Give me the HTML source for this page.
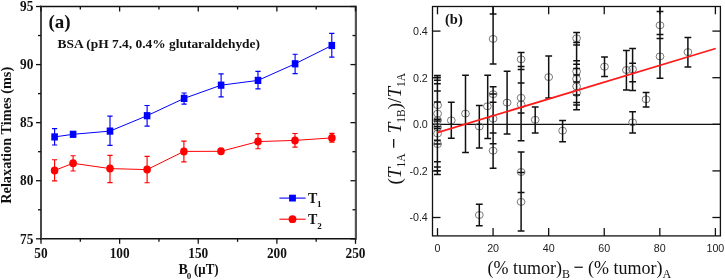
<!DOCTYPE html>
<html><head><meta charset="utf-8"><style>
html,body{margin:0;padding:0;background:#fff;width:725px;height:280px;overflow:hidden}
svg{display:block;will-change:transform}
text{font-family:"Liberation Serif",serif;fill:#111}
.lb{font-weight:bold;font-size:15.5px}
.lg{font-weight:bold;font-size:14px}
.sub{font-size:9px}
.sub2{font-size:9px}
.pa{font-weight:bold;font-size:19px}
.pb{font-weight:bold;font-size:14.5px}
.bsa{font-weight:bold;font-size:12.5px}
.ax{font-weight:bold;font-size:14px}
.rl{font-family:"Liberation Sans",sans-serif;font-size:10.7px;fill:#222}
.xl{font-size:18px}
.xs{font-size:12px}
.yl{font-size:19px}
.ys{font-size:11.5px}
</style></head><body>
<svg width="725" height="280" viewBox="0 0 725 280">
<line x1="40" y1="6.5" x2="356.5" y2="6.5" stroke="#111" stroke-width="1.5"/>
<line x1="40" y1="238.8" x2="356.5" y2="238.8" stroke="#111" stroke-width="1.5"/>
<line x1="41" y1="5.8" x2="41" y2="239.5" stroke="#484848" stroke-width="2"/>
<line x1="355.9" y1="5.8" x2="355.9" y2="239.5" stroke="#555" stroke-width="2.2"/>
<line x1="41.00" y1="238.8" x2="41.00" y2="243.8" stroke="#111" stroke-width="1.3"/>
<line x1="41.00" y1="6.5" x2="41.00" y2="11.5" stroke="#111" stroke-width="1.3"/>
<line x1="80.31" y1="238.8" x2="80.31" y2="241.8" stroke="#111" stroke-width="1.3"/>
<line x1="80.31" y1="6.5" x2="80.31" y2="9.5" stroke="#111" stroke-width="1.3"/>
<line x1="119.62" y1="238.8" x2="119.62" y2="243.8" stroke="#111" stroke-width="1.3"/>
<line x1="119.62" y1="6.5" x2="119.62" y2="11.5" stroke="#111" stroke-width="1.3"/>
<line x1="158.94" y1="238.8" x2="158.94" y2="241.8" stroke="#111" stroke-width="1.3"/>
<line x1="158.94" y1="6.5" x2="158.94" y2="9.5" stroke="#111" stroke-width="1.3"/>
<line x1="198.25" y1="238.8" x2="198.25" y2="243.8" stroke="#111" stroke-width="1.3"/>
<line x1="198.25" y1="6.5" x2="198.25" y2="11.5" stroke="#111" stroke-width="1.3"/>
<line x1="237.56" y1="238.8" x2="237.56" y2="241.8" stroke="#111" stroke-width="1.3"/>
<line x1="237.56" y1="6.5" x2="237.56" y2="9.5" stroke="#111" stroke-width="1.3"/>
<line x1="276.88" y1="238.8" x2="276.88" y2="243.8" stroke="#111" stroke-width="1.3"/>
<line x1="276.88" y1="6.5" x2="276.88" y2="11.5" stroke="#111" stroke-width="1.3"/>
<line x1="316.19" y1="238.8" x2="316.19" y2="241.8" stroke="#111" stroke-width="1.3"/>
<line x1="316.19" y1="6.5" x2="316.19" y2="9.5" stroke="#111" stroke-width="1.3"/>
<line x1="355.50" y1="238.8" x2="355.50" y2="243.8" stroke="#111" stroke-width="1.3"/>
<line x1="355.50" y1="6.5" x2="355.50" y2="11.5" stroke="#111" stroke-width="1.3"/>
<line x1="41" y1="238.80" x2="36" y2="238.80" stroke="#111" stroke-width="1.3"/>
<line x1="355.5" y1="238.80" x2="350.5" y2="238.80" stroke="#111" stroke-width="1.3"/>
<line x1="41" y1="209.76" x2="38" y2="209.76" stroke="#111" stroke-width="1.3"/>
<line x1="355.5" y1="209.76" x2="352.5" y2="209.76" stroke="#111" stroke-width="1.3"/>
<line x1="41" y1="180.73" x2="36" y2="180.73" stroke="#111" stroke-width="1.3"/>
<line x1="355.5" y1="180.73" x2="350.5" y2="180.73" stroke="#111" stroke-width="1.3"/>
<line x1="41" y1="151.69" x2="38" y2="151.69" stroke="#111" stroke-width="1.3"/>
<line x1="355.5" y1="151.69" x2="352.5" y2="151.69" stroke="#111" stroke-width="1.3"/>
<line x1="41" y1="122.65" x2="36" y2="122.65" stroke="#111" stroke-width="1.3"/>
<line x1="355.5" y1="122.65" x2="350.5" y2="122.65" stroke="#111" stroke-width="1.3"/>
<line x1="41" y1="93.61" x2="38" y2="93.61" stroke="#111" stroke-width="1.3"/>
<line x1="355.5" y1="93.61" x2="352.5" y2="93.61" stroke="#111" stroke-width="1.3"/>
<line x1="41" y1="64.58" x2="36" y2="64.58" stroke="#111" stroke-width="1.3"/>
<line x1="355.5" y1="64.58" x2="350.5" y2="64.58" stroke="#111" stroke-width="1.3"/>
<line x1="41" y1="35.54" x2="38" y2="35.54" stroke="#111" stroke-width="1.3"/>
<line x1="355.5" y1="35.54" x2="352.5" y2="35.54" stroke="#111" stroke-width="1.3"/>
<line x1="41" y1="6.50" x2="36" y2="6.50" stroke="#111" stroke-width="1.3"/>
<line x1="355.5" y1="6.50" x2="350.5" y2="6.50" stroke="#111" stroke-width="1.3"/>
<text transform="translate(33.3,243.50) scale(0.86,1)" text-anchor="end" class="lb">75</text>
<text transform="translate(33.3,185.43) scale(0.86,1)" text-anchor="end" class="lb">80</text>
<text transform="translate(33.3,127.35) scale(0.86,1)" text-anchor="end" class="lb">85</text>
<text transform="translate(33.3,69.28) scale(0.86,1)" text-anchor="end" class="lb">90</text>
<text transform="translate(33.3,11.20) scale(0.86,1)" text-anchor="end" class="lb">95</text>
<text transform="translate(41.00,257.6) scale(0.86,1)" text-anchor="middle" class="lb">50</text>
<text transform="translate(119.62,257.6) scale(0.86,1)" text-anchor="middle" class="lb">100</text>
<text transform="translate(198.25,257.6) scale(0.86,1)" text-anchor="middle" class="lb">150</text>
<text transform="translate(276.88,257.6) scale(0.86,1)" text-anchor="middle" class="lb">200</text>
<text transform="translate(355.50,257.6) scale(0.86,1)" text-anchor="middle" class="lb">250</text>
<polyline points="54.6,136.9 73.1,134.3 110,131.1 147.1,115.7 184.1,98.4 221.1,85.2 258,80.4 295.1,63.8 331.8,45.5" fill="none" stroke="#0000ff" stroke-width="1.0"/>
<path d="M54.6 128.6V145M52.0 128.6H57.2M52.0 145H57.2" stroke="#0000ff" stroke-width="1.15" fill="none"/>
<path d="M110 116.1V145.4M107.4 116.1H112.6M107.4 145.4H112.6" stroke="#0000ff" stroke-width="1.15" fill="none"/>
<path d="M147.1 105.5V126.1M144.5 105.5H149.7M144.5 126.1H149.7" stroke="#0000ff" stroke-width="1.15" fill="none"/>
<path d="M184.1 93V104.1M181.5 93H186.7M181.5 104.1H186.7" stroke="#0000ff" stroke-width="1.15" fill="none"/>
<path d="M221.1 73.8V96.8M218.5 73.8H223.7M218.5 96.8H223.7" stroke="#0000ff" stroke-width="1.15" fill="none"/>
<path d="M258 71.4V88.8M255.4 71.4H260.6M255.4 88.8H260.6" stroke="#0000ff" stroke-width="1.15" fill="none"/>
<path d="M295.1 54.2V73.6M292.5 54.2H297.70000000000005M292.5 73.6H297.70000000000005" stroke="#0000ff" stroke-width="1.15" fill="none"/>
<path d="M331.8 33.4V57.1M329.2 33.4H334.40000000000003M329.2 57.1H334.40000000000003" stroke="#0000ff" stroke-width="1.15" fill="none"/>
<rect x="51.300000000000004" y="133.3" width="6.6" height="7.2" fill="#0000ff"/>
<rect x="69.8" y="130.70000000000002" width="6.6" height="7.2" fill="#0000ff"/>
<rect x="106.7" y="127.5" width="6.6" height="7.2" fill="#0000ff"/>
<rect x="143.79999999999998" y="112.10000000000001" width="6.6" height="7.2" fill="#0000ff"/>
<rect x="180.79999999999998" y="94.80000000000001" width="6.6" height="7.2" fill="#0000ff"/>
<rect x="217.79999999999998" y="81.60000000000001" width="6.6" height="7.2" fill="#0000ff"/>
<rect x="254.7" y="76.80000000000001" width="6.6" height="7.2" fill="#0000ff"/>
<rect x="291.8" y="60.199999999999996" width="6.6" height="7.2" fill="#0000ff"/>
<rect x="328.5" y="41.9" width="6.6" height="7.2" fill="#0000ff"/>
<polyline points="54.6,170.4 73.1,163.3 110,168.6 147.1,169.6 183.9,151.4 221,151.3 258,141.6 295,140.4 331.9,137.9" fill="none" stroke="#ff0000" stroke-width="1.0"/>
<path d="M54.6 159.7V180.9M52.0 159.7H57.2M52.0 180.9H57.2" stroke="#ff0000" stroke-width="1.15" fill="none"/>
<path d="M73.1 155.7V171M70.5 155.7H75.69999999999999M70.5 171H75.69999999999999" stroke="#ff0000" stroke-width="1.15" fill="none"/>
<path d="M110 155.4V182.6M107.4 155.4H112.6M107.4 182.6H112.6" stroke="#ff0000" stroke-width="1.15" fill="none"/>
<path d="M147.1 156.4V182.7M144.5 156.4H149.7M144.5 182.7H149.7" stroke="#ff0000" stroke-width="1.15" fill="none"/>
<path d="M183.9 141.1V161.8M181.3 141.1H186.5M181.3 161.8H186.5" stroke="#ff0000" stroke-width="1.15" fill="none"/>
<path d="M258 133.6V148.75M255.4 133.6H260.6M255.4 148.75H260.6" stroke="#ff0000" stroke-width="1.15" fill="none"/>
<path d="M295 133.5V147.1M292.4 133.5H297.6M292.4 147.1H297.6" stroke="#ff0000" stroke-width="1.15" fill="none"/>
<path d="M331.9 133.3V142.1M329.29999999999995 133.3H334.5M329.29999999999995 142.1H334.5" stroke="#ff0000" stroke-width="1.15" fill="none"/>
<ellipse cx="54.6" cy="170.4" rx="3.8" ry="4.0" fill="#ff0000"/>
<ellipse cx="73.1" cy="163.3" rx="3.8" ry="4.0" fill="#ff0000"/>
<ellipse cx="110" cy="168.6" rx="3.8" ry="4.0" fill="#ff0000"/>
<ellipse cx="147.1" cy="169.6" rx="3.8" ry="4.0" fill="#ff0000"/>
<ellipse cx="183.9" cy="151.4" rx="3.8" ry="4.0" fill="#ff0000"/>
<ellipse cx="221" cy="151.3" rx="3.8" ry="4.0" fill="#ff0000"/>
<ellipse cx="258" cy="141.6" rx="3.8" ry="4.0" fill="#ff0000"/>
<ellipse cx="295" cy="140.4" rx="3.8" ry="4.0" fill="#ff0000"/>
<ellipse cx="331.9" cy="137.9" rx="3.8" ry="4.0" fill="#ff0000"/>
<line x1="279.4" y1="198.1" x2="305.6" y2="198.1" stroke="#0000ff" stroke-width="1.1"/>
<rect x="289.1" y="194.7" width="6.8" height="6.8" fill="#0000ff"/>
<line x1="279.4" y1="219.2" x2="305.6" y2="219.2" stroke="#ff0000" stroke-width="1.1"/>
<circle cx="292.5" cy="219.2" r="3.9" fill="#ff0000"/>
<text x="308" y="202.6" class="lg">T<tspan class="sub" dy="4.7" dx="-0.4">1</tspan></text>
<text x="308" y="224" class="lg">T<tspan class="sub" dy="5">2</tspan></text>
<text x="48.5" y="28.3" class="pa">(a)</text>
<text x="57.5" y="48" class="bsa" textLength="202.5" lengthAdjust="spacingAndGlyphs">BSA (pH 7.4, 0.4% glutaraldehyde)</text>
<text x="178.5" y="273.7" class="ax">B</text><text x="186.8" y="278.9" style="font-weight:bold;font-size:9px">0</text><text x="194" y="273.7" class="ax" textLength="24.6" lengthAdjust="spacingAndGlyphs">(μT)</text>
<text transform="translate(11.4,135.3) rotate(-90)" text-anchor="middle" class="ax" textLength="137" lengthAdjust="spacingAndGlyphs">Relaxation Times (ms)</text>
<rect x="432.5" y="6.5" width="287.9" height="229.4" fill="none" stroke="#111" stroke-width="1.3"/>
<line x1="432.5" y1="124.3" x2="720.4" y2="124.3" stroke="#111" stroke-width="1.3"/>
<line x1="437.50" y1="6.5" x2="437.50" y2="14.3" stroke="#111" stroke-width="1.3"/>
<line x1="437.50" y1="235.9" x2="437.50" y2="228.1" stroke="#111" stroke-width="1.3"/>
<text x="437.50" y="251.6" text-anchor="middle" class="rl">0</text>
<line x1="493.08" y1="6.5" x2="493.08" y2="14.3" stroke="#111" stroke-width="1.3"/>
<line x1="493.08" y1="235.9" x2="493.08" y2="228.1" stroke="#111" stroke-width="1.3"/>
<text x="493.08" y="251.6" text-anchor="middle" class="rl">20</text>
<line x1="548.66" y1="6.5" x2="548.66" y2="14.3" stroke="#111" stroke-width="1.3"/>
<line x1="548.66" y1="235.9" x2="548.66" y2="228.1" stroke="#111" stroke-width="1.3"/>
<text x="548.66" y="251.6" text-anchor="middle" class="rl">40</text>
<line x1="604.24" y1="6.5" x2="604.24" y2="14.3" stroke="#111" stroke-width="1.3"/>
<line x1="604.24" y1="235.9" x2="604.24" y2="228.1" stroke="#111" stroke-width="1.3"/>
<text x="604.24" y="251.6" text-anchor="middle" class="rl">60</text>
<line x1="659.82" y1="6.5" x2="659.82" y2="14.3" stroke="#111" stroke-width="1.3"/>
<line x1="659.82" y1="235.9" x2="659.82" y2="228.1" stroke="#111" stroke-width="1.3"/>
<text x="659.82" y="251.6" text-anchor="middle" class="rl">80</text>
<line x1="715.40" y1="6.5" x2="715.40" y2="14.3" stroke="#111" stroke-width="1.3"/>
<line x1="715.40" y1="235.9" x2="715.40" y2="228.1" stroke="#111" stroke-width="1.3"/>
<text x="715.40" y="251.6" text-anchor="middle" class="rl">100</text>
<line x1="432.5" y1="217.50" x2="440.5" y2="217.50" stroke="#111" stroke-width="1.3"/>
<line x1="720.4" y1="217.50" x2="712.4" y2="217.50" stroke="#111" stroke-width="1.3"/>
<text x="427.8" y="221.30" text-anchor="end" class="rl">-0.4</text>
<line x1="432.5" y1="170.90" x2="440.5" y2="170.90" stroke="#111" stroke-width="1.3"/>
<line x1="720.4" y1="170.90" x2="712.4" y2="170.90" stroke="#111" stroke-width="1.3"/>
<text x="427.8" y="174.70" text-anchor="end" class="rl">-0.2</text>
<line x1="432.5" y1="124.30" x2="440.5" y2="124.30" stroke="#111" stroke-width="1.3"/>
<line x1="720.4" y1="124.30" x2="712.4" y2="124.30" stroke="#111" stroke-width="1.3"/>
<text x="427.8" y="128.10" text-anchor="end" class="rl">0.0</text>
<line x1="432.5" y1="77.70" x2="440.5" y2="77.70" stroke="#111" stroke-width="1.3"/>
<line x1="720.4" y1="77.70" x2="712.4" y2="77.70" stroke="#111" stroke-width="1.3"/>
<text x="427.8" y="81.50" text-anchor="end" class="rl">0.2</text>
<line x1="432.5" y1="31.10" x2="440.5" y2="31.10" stroke="#111" stroke-width="1.3"/>
<line x1="720.4" y1="31.10" x2="712.4" y2="31.10" stroke="#111" stroke-width="1.3"/>
<text x="427.8" y="34.90" text-anchor="end" class="rl">0.4</text>
<ellipse cx="437.6" cy="105.2" rx="3.9" ry="3.5" fill="none" stroke="#6a6a6a" stroke-width="0.9"/>
<ellipse cx="437.6" cy="113.7" rx="3.9" ry="3.5" fill="none" stroke="#6a6a6a" stroke-width="0.9"/>
<ellipse cx="437.6" cy="120.2" rx="3.9" ry="3.5" fill="none" stroke="#6a6a6a" stroke-width="0.9"/>
<ellipse cx="437.6" cy="127.4" rx="3.9" ry="3.5" fill="none" stroke="#6a6a6a" stroke-width="0.9"/>
<ellipse cx="437.6" cy="133.5" rx="3.9" ry="3.5" fill="none" stroke="#6a6a6a" stroke-width="0.9"/>
<ellipse cx="437.6" cy="144.1" rx="3.9" ry="3.5" fill="none" stroke="#6a6a6a" stroke-width="0.9"/>
<ellipse cx="451.3" cy="120.4" rx="3.9" ry="3.5" fill="none" stroke="#6a6a6a" stroke-width="0.9"/>
<ellipse cx="465.5" cy="113.6" rx="3.9" ry="3.5" fill="none" stroke="#6a6a6a" stroke-width="0.9"/>
<ellipse cx="479.3" cy="126.5" rx="3.9" ry="3.5" fill="none" stroke="#6a6a6a" stroke-width="0.9"/>
<ellipse cx="479.3" cy="215" rx="3.9" ry="3.5" fill="none" stroke="#6a6a6a" stroke-width="0.9"/>
<ellipse cx="487.4" cy="106.3" rx="3.9" ry="3.5" fill="none" stroke="#6a6a6a" stroke-width="0.9"/>
<ellipse cx="493.1" cy="38.9" rx="3.9" ry="3.5" fill="none" stroke="#6a6a6a" stroke-width="0.9"/>
<ellipse cx="493.1" cy="94.2" rx="3.9" ry="3.5" fill="none" stroke="#6a6a6a" stroke-width="0.9"/>
<ellipse cx="493.1" cy="118.7" rx="3.9" ry="3.5" fill="none" stroke="#6a6a6a" stroke-width="0.9"/>
<ellipse cx="493.1" cy="150.7" rx="3.9" ry="3.5" fill="none" stroke="#6a6a6a" stroke-width="0.9"/>
<ellipse cx="507.1" cy="102.6" rx="3.9" ry="3.5" fill="none" stroke="#6a6a6a" stroke-width="0.9"/>
<ellipse cx="521.1" cy="59.3" rx="3.9" ry="3.5" fill="none" stroke="#6a6a6a" stroke-width="0.9"/>
<ellipse cx="521.1" cy="97.8" rx="3.9" ry="3.5" fill="none" stroke="#6a6a6a" stroke-width="0.9"/>
<ellipse cx="521.1" cy="104.5" rx="3.9" ry="3.5" fill="none" stroke="#6a6a6a" stroke-width="0.9"/>
<ellipse cx="521.1" cy="172" rx="3.9" ry="3.5" fill="none" stroke="#6a6a6a" stroke-width="0.9"/>
<ellipse cx="521.1" cy="201.9" rx="3.9" ry="3.5" fill="none" stroke="#6a6a6a" stroke-width="0.9"/>
<ellipse cx="535.2" cy="119.8" rx="3.9" ry="3.5" fill="none" stroke="#6a6a6a" stroke-width="0.9"/>
<ellipse cx="548.7" cy="77.1" rx="3.9" ry="3.5" fill="none" stroke="#6a6a6a" stroke-width="0.9"/>
<ellipse cx="562.6" cy="130.7" rx="3.9" ry="3.5" fill="none" stroke="#6a6a6a" stroke-width="0.9"/>
<ellipse cx="576.6" cy="38.3" rx="3.9" ry="3.5" fill="none" stroke="#6a6a6a" stroke-width="0.9"/>
<ellipse cx="576.6" cy="71.4" rx="3.9" ry="3.5" fill="none" stroke="#6a6a6a" stroke-width="0.9"/>
<ellipse cx="576.6" cy="78.9" rx="3.9" ry="3.5" fill="none" stroke="#6a6a6a" stroke-width="0.9"/>
<ellipse cx="576.6" cy="86.4" rx="3.9" ry="3.5" fill="none" stroke="#6a6a6a" stroke-width="0.9"/>
<ellipse cx="576.6" cy="92.9" rx="3.9" ry="3.5" fill="none" stroke="#6a6a6a" stroke-width="0.9"/>
<ellipse cx="604.5" cy="66.7" rx="3.9" ry="3.5" fill="none" stroke="#6a6a6a" stroke-width="0.9"/>
<ellipse cx="626.4" cy="70" rx="3.9" ry="3.5" fill="none" stroke="#6a6a6a" stroke-width="0.9"/>
<ellipse cx="632.6" cy="69.3" rx="3.9" ry="3.5" fill="none" stroke="#6a6a6a" stroke-width="0.9"/>
<ellipse cx="632.6" cy="122.4" rx="3.9" ry="3.5" fill="none" stroke="#6a6a6a" stroke-width="0.9"/>
<ellipse cx="646.1" cy="99.3" rx="3.9" ry="3.5" fill="none" stroke="#6a6a6a" stroke-width="0.9"/>
<ellipse cx="660" cy="25.3" rx="3.9" ry="3.5" fill="none" stroke="#6a6a6a" stroke-width="0.9"/>
<ellipse cx="660" cy="56.4" rx="3.9" ry="3.5" fill="none" stroke="#6a6a6a" stroke-width="0.9"/>
<ellipse cx="687.9" cy="52.1" rx="3.9" ry="3.5" fill="none" stroke="#6a6a6a" stroke-width="0.9"/>
<path d="M437.4 75.4V174.6M434.0 75.4H440.79999999999995M434.0 77.5H440.79999999999995M434.0 80.2H440.79999999999995M434.0 83.75H440.79999999999995M434.0 90.9H440.79999999999995M434.0 101.9H440.79999999999995M434.0 119.2H440.79999999999995M434.0 121.1H440.79999999999995M434.0 126.5H440.79999999999995M434.0 128.4H440.79999999999995M434.0 140.2H440.79999999999995M434.0 144.1H440.79999999999995M434.0 161.8H440.79999999999995M434.0 167.1H440.79999999999995M434.0 170.7H440.79999999999995M434.0 174.6H440.79999999999995" stroke="#111" stroke-width="1.5" fill="none"/>
<path d="M451.3 102.3V138.2M447.90000000000003 102.3H454.7M447.90000000000003 138.2H454.7" stroke="#111" stroke-width="1.5" fill="none"/>
<path d="M465.5 75.2V152.4M462.1 75.2H468.9M462.1 152.4H468.9" stroke="#111" stroke-width="1.5" fill="none"/>
<path d="M479.3 105.4V148M475.90000000000003 105.4H482.7M475.90000000000003 148H482.7" stroke="#111" stroke-width="1.5" fill="none"/>
<path d="M479.3 204.3V225.7M475.90000000000003 204.3H482.7M475.90000000000003 225.7H482.7" stroke="#111" stroke-width="1.5" fill="none"/>
<path d="M487.7 75.2V138.6M484.3 75.2H491.09999999999997M484.3 138.6H491.09999999999997" stroke="#111" stroke-width="1.5" fill="none"/>
<path d="M493.1 6.5V63.9M489.70000000000005 13.9H496.5M489.70000000000005 63.9H496.5" stroke="#111" stroke-width="1.5" fill="none"/>
<path d="M493.1 86.7V168.3M489.70000000000005 86.7H496.5M489.70000000000005 93.9H496.5M489.70000000000005 102.2H496.5M489.70000000000005 133.1H496.5M489.70000000000005 143.7H496.5M489.70000000000005 168.3H496.5" stroke="#111" stroke-width="1.5" fill="none"/>
<path d="M507.1 71.3V133.9M503.70000000000005 71.3H510.5M503.70000000000005 133.9H510.5" stroke="#111" stroke-width="1.5" fill="none"/>
<path d="M521.1 52.4V140.8M517.7 52.4H524.5M517.7 66.6H524.5M517.7 69.5H524.5M517.7 83H524.5M517.7 113H524.5M517.7 140.8H524.5" stroke="#111" stroke-width="1.5" fill="none"/>
<path d="M521.1 152V231.1M517.7 152H524.5M517.7 172.4H524.5M517.7 192.4H524.5M517.7 231.1H524.5" stroke="#111" stroke-width="1.5" fill="none"/>
<path d="M535.2 106.9V132.9M531.8000000000001 106.9H538.6M531.8000000000001 132.9H538.6" stroke="#111" stroke-width="1.5" fill="none"/>
<path d="M548.7 56.1V98.1M545.3000000000001 56.1H552.1M545.3000000000001 98.1H552.1" stroke="#111" stroke-width="1.5" fill="none"/>
<path d="M562.6 120.4V141.7M559.2 120.4H566.0M559.2 141.7H566.0" stroke="#111" stroke-width="1.5" fill="none"/>
<path d="M576.6 32.6V109.7M573.2 32.6H580.0M573.2 42.4H580.0M573.2 45H580.0M573.2 60.7H580.0M573.2 64.3H580.0M573.2 68.6H580.0M573.2 75H580.0M573.2 82.1H580.0M573.2 95H580.0M573.2 102.5H580.0M573.2 104.9H580.0M573.2 109.7H580.0" stroke="#111" stroke-width="1.5" fill="none"/>
<path d="M604.5 57V76.6M601.1 57H607.9M601.1 76.6H607.9" stroke="#111" stroke-width="1.5" fill="none"/>
<path d="M626.4 50.4V90M623.0 50.4H629.8M623.0 90H629.8" stroke="#111" stroke-width="1.5" fill="none"/>
<path d="M632.6 48.6V90.4M629.2 48.6H636.0M629.2 63.3H636.0M629.2 81.7H636.0M629.2 90.4H636.0" stroke="#111" stroke-width="1.5" fill="none"/>
<path d="M632.6 111.7V133.1M629.2 111.7H636.0M629.2 133.1H636.0" stroke="#111" stroke-width="1.5" fill="none"/>
<path d="M646.1 92.4V107.1M642.7 92.4H649.5M642.7 107.1H649.5" stroke="#111" stroke-width="1.5" fill="none"/>
<path d="M660 6.5V78.3M656.6 11.4H663.4M656.6 34.6H663.4M656.6 38.6H663.4M656.6 78.3H663.4" stroke="#111" stroke-width="1.5" fill="none"/>
<path d="M687.9 37.4V67.1M684.5 37.4H691.3M684.5 67.1H691.3" stroke="#111" stroke-width="1.5" fill="none"/>
<line x1="437.3" y1="132.6" x2="715.7" y2="48.5" stroke="#ff1a1a" stroke-width="1.7"/>
<text x="445" y="23.6" class="pb">(b)</text>
<text x="487.5" y="274.3" class="xl">(% tumor)<tspan class="xs" dy="3.5">B</tspan><tspan dy="-3.5"> </tspan><tspan dy="-1.2" dx="-0.9" font-weight="bold">−</tspan><tspan dy="1.2" dx="-0.4"> (% tumor)</tspan><tspan class="xs" dy="3.5">A</tspan></text>
<text transform="translate(401.1,184.5) rotate(-90)" class="yl">(<tspan font-style="italic">T</tspan><tspan class="ys" dy="3.5">1A</tspan><tspan dy="-4.6"> </tspan><tspan font-weight="bold">−</tspan><tspan dy="1.1"> </tspan><tspan font-style="italic">T</tspan><tspan class="ys" dy="3.5">1B</tspan><tspan dy="-3.5">)/</tspan><tspan font-style="italic">T</tspan><tspan class="ys" dy="3.5">1A</tspan></text>
</svg>
</body></html>
